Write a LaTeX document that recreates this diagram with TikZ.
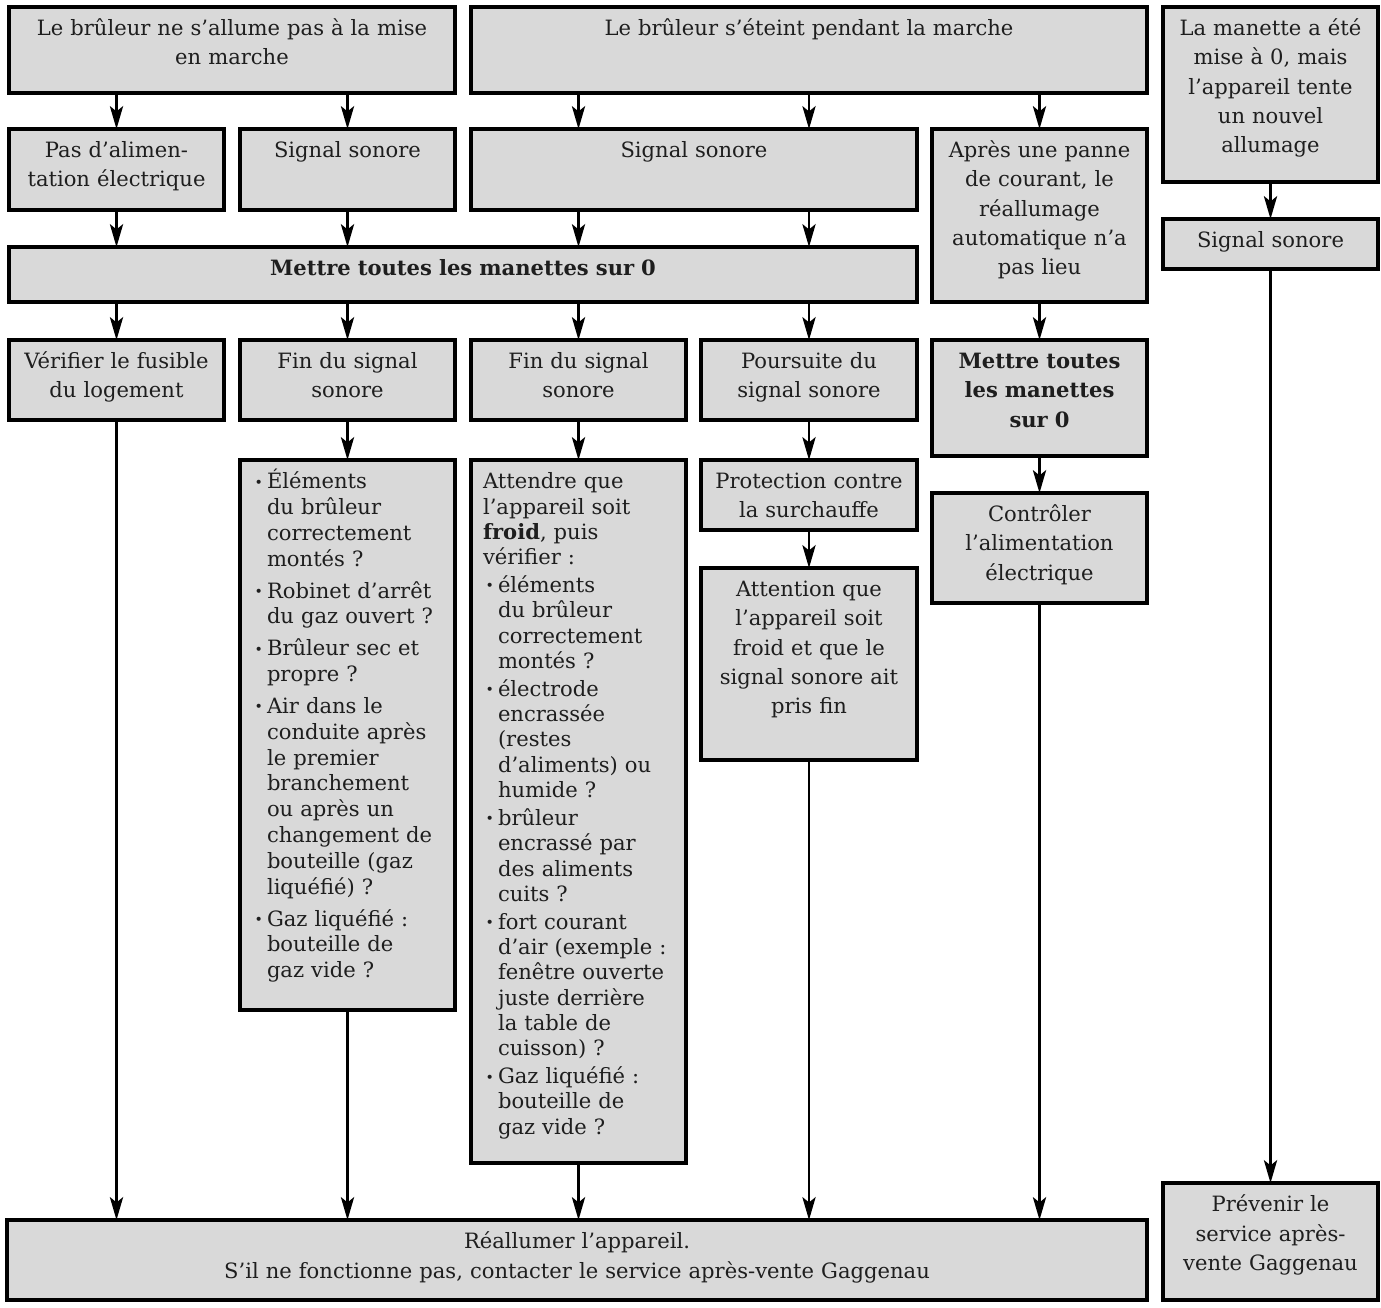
\documentclass[tikz,border=0pt]{standalone}
\usepackage{fontspec}
\setmainfont{DejaVu Serif}
\usepackage{xcolor}
\usetikzlibrary{arrows.meta,calc,positioning}

\definecolor{boxgray}{HTML}{D9D9D9}
\definecolor{textdark}{HTML}{1E1E1E}

% bullet items with hanging indent
\newlength{\pucegap}
\setlength{\pucegap}{3.4pt}
\newcommand{\puceitem}{\hangindent=0.3cm\hangafter=1\relax\makebox[0.3cm][l]{\hspace{0.05cm}\raisebox{1pt}{\footnotesize\textbullet}}}
\newcommand{\puce}{\par\vspace{\pucegap}\puceitem}

\begin{document}
\begin{tikzpicture}[
    >=Stealth,
    box/.style 2 args={draw=black, line width=2pt, fill=boxgray, text=textdark,
        anchor=north west, outer sep=0pt, inner xsep=0.24cm, inner ysep=0.26cm,
        minimum width=#1cm, text width=#1cm-0.48cm,
        text height=9pt, text depth=#2cm-0.52cm-9pt,
        align=center, font=\fontsize{12}{16.6}\selectfont},
    liste/.style={align=left, font=\fontsize{12}{#1}\selectfont},
    fleche/.style={line width=1.5pt, -{Stealth[length=13pt,width=7.5pt,inset=3pt]}}
]

\useasboundingbox (0,0) rectangle (27.62,-26.14);

% ===== Top row =====
\node[box={8.92}{1.72}] (allume) at (0.18,-0.14)
    {Le brûleur ne s’allume pas à la mise\\en marche};
\node[box={13.52}{1.72}] (eteint) at (9.42,-0.14)
    {Le brûleur s’éteint pendant la marche};
\node[box={4.30}{3.50}] (manette) at (23.26,-0.14)
    {La manette a été\\mise à 0, mais\\l’appareil tente\\un nouvel\\allumage};

% ===== Second row =====
\node[box={4.30}{1.62}] (alim) at (0.18,-2.58) {Pas d’alimen-\\tation électrique};
\node[box={4.30}{1.62}] (sig1) at (4.80,-2.58) {Signal sonore};
\node[box={8.92}{1.62}] (sig2) at (9.42,-2.58) {Signal sonore};
\node[box={4.30}{3.46}] (panne) at (18.64,-2.58)
    {Après une panne\\de courant, le\\réallumage\\automatique n’a\\pas lieu};
\node[box={4.30}{1.00}] (sig3) at (23.26,-4.38) {Signal sonore};

% Set all knobs to 0
\node[box={18.16}{1.10}] (zero) at (0.18,-4.94)
    {\textbf{Mettre toutes les manettes sur 0}};

% ===== Third row =====
\node[box={4.30}{1.60}] (fusible) at (0.18,-6.80) {Vérifier le fusible\\du logement};
\node[box={4.30}{1.60}] (fin1) at (4.80,-6.80) {Fin du signal\\sonore};
\node[box={4.30}{1.60}] (fin2) at (9.42,-6.80) {Fin du signal\\sonore};
\node[box={4.32}{1.60}] (poursuite) at (14.02,-6.80) {Poursuite du\\signal sonore};
\node[box={4.30}{2.32}] (zero2) at (18.64,-6.80)
    {\textbf{Mettre toutes}\\\textbf{les manettes}\\\textbf{sur 0}};

% ===== Check lists =====
\node[box={4.30}{11.00}, liste=14.7] (liste1) at (4.80,-9.20)
    {\puceitem Éléments\newline du brûleur\newline correctement\newline montés ?
     \puce Robinet d’arrêt\newline du gaz ouvert ?
     \puce Brûleur sec et\newline propre ?
     \puce Air dans le\newline conduite après\newline le premier\newline branchement\newline
        ou après un\newline changement de\newline bouteille (gaz\newline liquéfié) ?
     \puce Gaz liquéfié :\newline bouteille de\newline gaz vide ?\par};

\node[box={4.30}{14.06}, liste=14.35] (liste2) at (9.42,-9.20)
    {\setlength{\pucegap}{1.7pt}%
     Attendre que\newline l’appareil soit\newline \textbf{froid}, puis\newline vérifier :
     \puce éléments\newline du brûleur\newline correctement\newline montés ?
     \puce électrode\newline encrassée\newline (restes\newline d’aliments) ou\newline humide ?
     \puce brûleur\newline encrassé par\newline des aliments\newline cuits ?
     \puce fort courant\newline d’air (exemple :\newline fenêtre ouverte\newline
        juste derrière\newline la table de\newline cuisson) ?
     \puce Gaz liquéfié :\newline bouteille de\newline gaz vide ?\par};

\node[box={4.32}{1.40}] (surchauffe) at (14.02,-9.20) {Protection contre\\la surchauffe};
\node[box={4.32}{3.84}] (attention) at (14.02,-11.36)
    {Attention que\\l’appareil soit\\froid et que le\\signal sonore ait\\pris fin};
\node[box={4.30}{2.20}] (controle) at (18.64,-9.86)
    {Contrôler\\l’alimentation\\électrique};

% ===== Bottom row =====
\node[box={22.80}{1.60}] (rallumer) at (0.14,-24.40)
    {Réallumer l’appareil.\\S’il ne fonctionne pas, contacter le service après-vente Gaggenau};
\node[box={4.30}{2.34}] (sav) at (23.26,-23.66)
    {Prévenir le\\service après-\\vente Gaggenau};

% ===== Arrows =====
% top row down
\draw[fleche] (allume.south -| alim.north) -- (alim.north);
\draw[fleche] (allume.south -| sig1.north) -- (sig1.north);
\draw[fleche] (eteint.south -| fin2.north) -- (sig2.north -| fin2.north);
\draw[fleche] (eteint.south -| poursuite.north) -- (sig2.north -| poursuite.north);
\draw[fleche] (eteint.south -| panne.north) -- (panne.north);
\draw[fleche] (manette.south) -- (sig3.north);

% into the knob box
\draw[fleche] (alim.south) -- (zero.north -| alim.south);
\draw[fleche] (sig1.south) -- (zero.north -| sig1.south);
\draw[fleche] (sig2.south -| fin2.north) -- (zero.north -| fin2.north);
\draw[fleche] (sig2.south -| poursuite.north) -- (zero.north -| poursuite.north);

% out of the knob box
\draw[fleche] (zero.south -| fusible.north) -- (fusible.north);
\draw[fleche] (zero.south -| fin1.north) -- (fin1.north);
\draw[fleche] (zero.south -| fin2.north) -- (fin2.north);
\draw[fleche] (zero.south -| poursuite.north) -- (poursuite.north);
\draw[fleche] (panne.south) -- (zero2.north);

% third row down
\draw[fleche] (fin1.south) -- (liste1.north);
\draw[fleche] (fin2.south) -- (liste2.north);
\draw[fleche] (poursuite.south) -- (surchauffe.north);
\draw[fleche] (surchauffe.south) -- (attention.north);
\draw[fleche] (zero2.south) -- (controle.north);

% down to the bottom row
\draw[fleche] (fusible.south) -- (rallumer.north -| fusible.south);
\draw[fleche] (liste1.south) -- (rallumer.north -| liste1.south);
\draw[fleche] (liste2.south) -- (rallumer.north -| liste2.south);
\draw[fleche] (attention.south) -- (rallumer.north -| attention.south);
\draw[fleche] (controle.south) -- (rallumer.north -| controle.south);
\draw[fleche] (sig3.south) -- (sav.north);

\end{tikzpicture}
\end{document}
